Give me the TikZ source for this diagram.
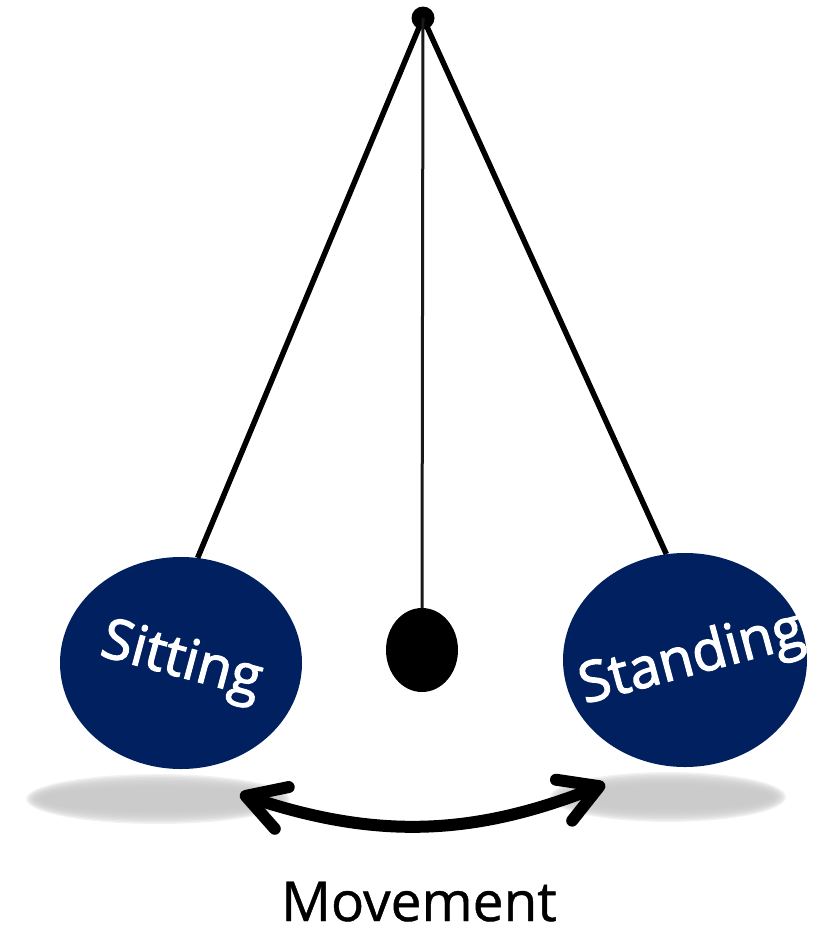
\documentclass[tikz,border=0pt]{standalone}
\usepackage{fontspec}
\setmainfont{Open Sans}
\newfontfamily\ballfont{Open Sans}[FakeBold=2.2]
\newfontfamily\movefont{Open Sans}[FakeBold=0.8]
\usetikzlibrary{arrows.meta,shapes.geometric}
\definecolor{ballblue}{HTML}{002060}
\definecolor{shadowgray}{HTML}{C8C8C8}
\tikzset{
  ball/.style={ellipse, fill=ballblue, inner sep=0pt},
  stringline/.style={line width=5.5pt, black},
  thinstring/.style={line width=3pt, black!90},
  balltext/.style={text=white, font=\ballfont\fontsize{56}{60}\selectfont},
  movearrow/.style={line width=12pt, {Straight Barb[length=38pt,width=44pt,line cap=round,round]}-{Straight Barb[length=38pt,width=44pt,line cap=round,round]}},
}
\begin{document}
\begin{tikzpicture}[x=1pt,y=-1pt]
\useasboundingbox (0,0) rectangle (823,926);
% shadows
\foreach \k in {0,...,9}{
  \fill[shadowgray, opacity=0.24] (158,799) ellipse ({132-1.6*\k} and {25-1.4*\k});
  \fill[shadowgray, opacity=0.24] (668,797) ellipse ({118-1.6*\k} and {25-1.4*\k});
}
% pivot
\node[circle, fill=black, minimum size=23pt, inner sep=0pt] (pivot) at (423,18) {};
% balls
\node[ball, minimum width=242pt, minimum height=212pt] (left) at (181,663) {};
\node[ball, minimum width=244pt, minimum height=214pt] (right) at (685,660) {};
\node[ellipse, fill=black, minimum width=72pt, minimum height=84pt, inner sep=0pt] (mid) at (422,650) {};
% strings
\draw[stringline] (pivot.center) -- (left.81);
\draw[stringline] (pivot.center) -- (right.100);
\draw[thinstring] (pivot.center) -- (mid.north);
% labels
\node[balltext, rotate=-15] (sit) at (181,663) {Sitting};
\node[balltext, rotate=15] (stand) at (692,660) {Standing};
% arrow
\coordinate (aL) at (240,794);
\coordinate (aR) at (605,784);
\draw[movearrow] (aL) to[bend right=20] (aR);
\node[font=\movefont\fontsize{55}{60}\selectfont, anchor=base, inner sep=0pt, text depth=0pt] (mv) at (419,921) {Movement};
\end{tikzpicture}
\end{document}
